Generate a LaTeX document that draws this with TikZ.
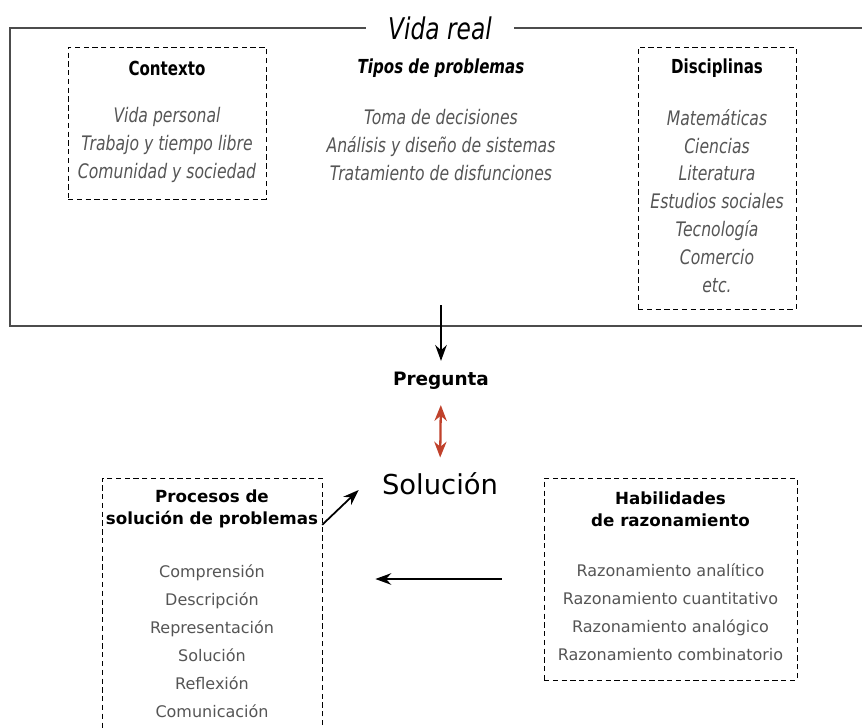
\documentclass[tikz,border=0pt]{standalone}
\usepackage{fontspec}
\setmainfont{DejaVu Sans}
\newfontfamily\narrowfont{DejaVu Sans}[FakeStretch=0.78]
\usetikzlibrary{positioning,arrows.meta}
\definecolor{itemgray}{HTML}{555555}
\definecolor{linkred}{HTML}{C0412B}

\begin{document}
\begin{tikzpicture}[x=0.02cm, y=-0.02cm,
  box/.style = {draw, densely dashed, thin, inner sep=0pt},
  tophead/.style = {font=\narrowfont\bfseries\fontsize{11}{13}\selectfont},
  topitems/.style = {font=\narrowfont\itshape\fontsize{11.4}{15.9}\selectfont,
    text=itemgray, align=center, inner sep=0pt},
  lowhead/.style = {font=\bfseries\fontsize{9.5}{12.5}\selectfont, align=center, inner sep=0pt},
  lowitems/.style = {font=\fontsize{9.1}{15.9}\selectfont,
    text=itemgray, align=center, inner sep=0pt},
  arr/.style = {line width=1.4pt, -{Stealth[length=9pt, width=6.5pt]}},
  dbl/.style = {line width=1.3pt, linkred, {Stealth[length=9pt, width=7pt]}-{Stealth[length=9pt, width=7pt]}}
  ]
  \useasboundingbox (0,0) rectangle (862,727);

  % vida real frame
  \draw [black!70, semithick] (870,28) -| (10,326) -- (870,326);
  \node (title) [fill=white, inner xsep=0.44cm, inner ysep=1pt,
    font=\narrowfont\itshape\fontsize{17}{20}\selectfont] at (440,28) {Vida real};

  % context box
  \node (ctx) [box, minimum width=3.96cm, minimum height=3.04cm] at (167,123) {};
  \node (ctxhead) [tophead] at (167,68) {Contexto};
  \node (ctxitems) [topitems] at (167,145) {Vida personal\\Trabajo y tiempo libre\\Comunidad y sociedad};

  % tipos
  \node (tiphead) [tophead, font=\narrowfont\bfseries\itshape\fontsize{11}{13}\selectfont] at (441,68) {Tipos de problemas};
  \node (tipitems) [topitems] at (441,145) {Toma de decisiones\\Análisis y diseño de sistemas\\Tratamiento de disfunciones};

  % disciplinas
  \node (disc) [box, minimum width=3.16cm, minimum height=5.24cm] at (717,178) {};
  \node (dischead) [tophead] at (717,68) {Disciplinas};
  \node (discitems) [topitems] at (717,201) {Matemáticas\\Ciencias\\Literatura\\Estudios sociales\\Tecnología\\Comercio\\etc.};

  % center column
  \coordinate (drop) at (441,305);
  \node (preg) [font=\bfseries\fontsize{10.5}{12}\selectfont, inner sep=0pt] at (441,381) {Pregunta};
  \node (sol) [font=\fontsize{15.6}{18}\selectfont, inner sep=0pt] at (440,484) {Solución};

  % procesos
  \node (proc) [box, minimum width=4.4cm, minimum height=5.64cm] at (212,619) {};
  \node (prochead) [lowhead] at (212,509) {Procesos de\\solución de problemas};
  \node (procitems) [lowitems] at (212,641) {Comprensión\\Descripción\\Representación\\Solución\\Reflexión\\Comunicación};

  % habilidades
  \node (hab) [box, minimum width=5.06cm, minimum height=4.04cm] at (670.5,579) {};
  \node (habhead) [lowhead] at (670.5,509) {Habilidades\\de razonamiento};
  \node (habitems) [lowitems] at (670.5,612) {Razonamiento analítico\\Razonamiento cuantitativo\\Razonamiento analógico\\Razonamiento combinatorio};

  \draw [arr, shorten >=0.22cm] (drop) -- (preg.north);
  \draw [dbl, shorten <=0.3cm, shorten >=0.3cm] (preg.south) -- (sol.north);
  \draw [arr, line width=1pt, shorten <=3pt] (prochead.south east) -- ([xshift=-0.46cm, yshift=-0.12cm]sol.west);
  \draw [arr, shorten <=0.84cm, shorten >=1.06cm] (hab.west) -- (proc.east |- hab.west);
\end{tikzpicture}
\end{document}
